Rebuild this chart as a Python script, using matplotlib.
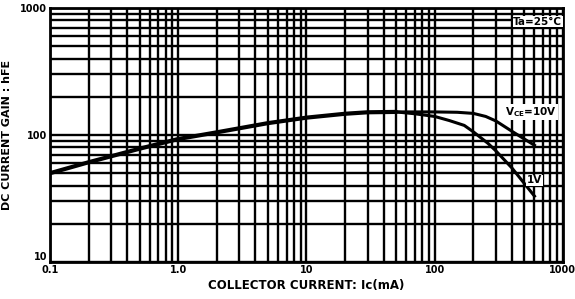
import numpy as np
import matplotlib
matplotlib.use('Agg')
import matplotlib.pyplot as plt
from matplotlib.ticker import FixedLocator, NullFormatter

# common part of both curves (mA, hFE)
ic_low = [0.1, 0.2, 0.5, 1, 2, 3, 5, 10, 20, 30, 50]
hfe_low = [50, 61, 78, 93, 105, 113, 124, 137, 147, 151, 152]

# Vce = 10V tail
ic_10v = [50, 70, 100, 150, 200, 250, 300, 400, 500, 600]
hfe_10v = [152, 152, 152, 151, 148, 140, 129, 107, 93, 83]

# Vce = 1V tail
ic_1v = [50, 70, 100, 130, 170, 200, 260, 300, 400, 600]
hfe_1v = [152, 147, 140, 130, 119, 106, 86, 75, 55, 33]

x_ticks = [0.1, 1, 10, 100, 1000]
x_labels = ['0.1', '1.0', '10', '100', '1000']
y_ticks = [10, 100, 1000]
y_labels = ['10', '100', '1000']

fig = plt.figure(figsize=(5.75, 2.99), dpi=100)
ax = fig.add_axes([0.087, 0.124, 0.892, 0.849])
ax.set_xscale('log')
ax.set_yscale('log')
ax.set_xlim(0.1, 1000)
ax.set_ylim(10, 1000)

# heavy black grid on every 1..9 step
xminor = [m * 10.0 ** e for e in range(-1, 3) for m in range(2, 10)]
yminor = [m * 10.0 ** e for e in range(1, 3) for m in range(2, 10)]
ax.xaxis.set_major_locator(FixedLocator(x_ticks))
ax.yaxis.set_major_locator(FixedLocator(y_ticks))
ax.xaxis.set_minor_locator(FixedLocator(xminor))
ax.yaxis.set_minor_locator(FixedLocator(yminor))
ax.xaxis.set_minor_formatter(NullFormatter())
ax.yaxis.set_minor_formatter(NullFormatter())
ax.grid(True, which='both', color='black', linewidth=1.7)
ax.set_axisbelow(True)
for s in ax.spines.values():
    s.set_linewidth(2)

ax.set_xticklabels(x_labels, fontsize=7, fontweight='bold')
ax.set_yticklabels(y_labels, fontsize=7, fontweight='bold')
ax.tick_params(which='both', length=0, pad=2)
# lowest y label sits just above the corner in the original
ax.get_yticklabels()[0].set_va('bottom')

ax.plot(ic_low, hfe_low, color='black', linewidth=3, solid_capstyle='round')
ax.plot(ic_10v, hfe_10v, color='black', linewidth=2.2)
ax.plot(ic_1v, hfe_1v, color='black', linewidth=2.2)

box = dict(facecolor='white', edgecolor='none', pad=0.5)
ax.text(990, 780, 'Ta=25°C', ha='right', va='center', fontsize=7.5,
        fontweight='bold', bbox=box)
ax.text(900, 152, r'V$_{\mathbf{CE}}$=10V', ha='right', va='center', fontsize=7.5,
        fontweight='bold', bbox=box)
ax.text(690, 44, '1V', ha='right', va='center', fontsize=7.5,
        fontweight='bold', bbox=box)

ax.set_xlabel('COLLECTOR CURRENT: Ic(mA)', fontsize=8.5, fontweight='bold', labelpad=3)
ax.set_ylabel('DC CURRENT GAIN : hFE', fontsize=8, fontweight='bold', labelpad=6)

fig.savefig('out.png', dpi=100)
